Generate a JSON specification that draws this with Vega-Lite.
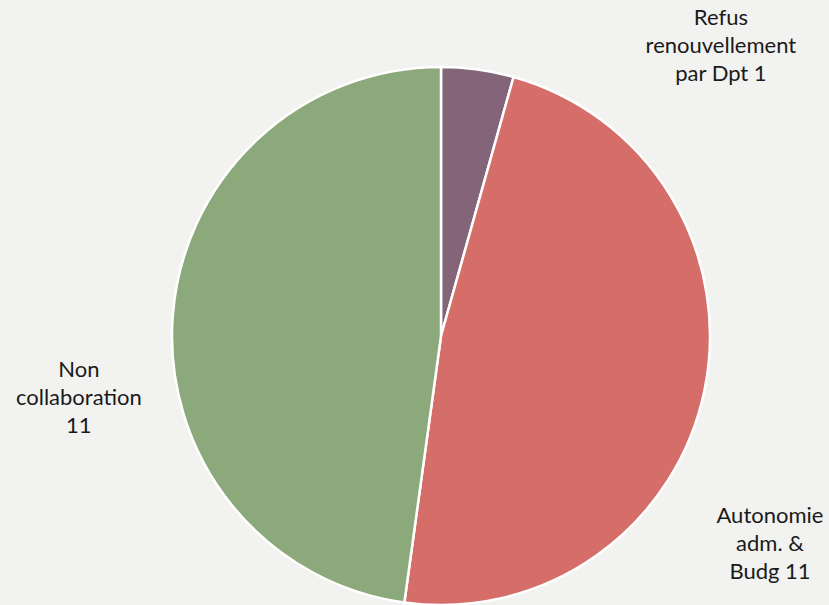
{
  "$schema": "https://vega.github.io/schema/vega-lite/v6.json",
  "autosize": "none",
  "width": 776,
  "height": 538,
  "padding": {"left": 53, "top": 67, "right": 0, "bottom": 0},
  "background": "#F2F2F1",
  "config": {"view": {"stroke": null}},
  "data": {
    "values": [
      {"category": "Refus renouvellement par Dpt", "label": "Refus\nrenouvellement\npar Dpt 1", "value": 1, "rank": 1},
      {"category": "Autonomie adm. & Budg", "label": "Autonomie\nadm. &\nBudg 11", "value": 11, "rank": 2},
      {"category": "Non collaboration", "label": "Non\ncollaboration\n11", "value": 11, "rank": 3}
    ]
  },
  "encoding": {
    "theta": {"field": "value", "type": "quantitative", "stack": true},
    "order": {"field": "rank", "type": "quantitative"}
  },
  "layer": [
    {
      "mark": {"type": "arc", "outerRadius": 269, "stroke": "#FFFFFF", "strokeWidth": 2.5},
      "encoding": {
        "color": {
          "field": "category",
          "type": "nominal",
          "legend": null,
          "scale": {
            "domain": ["Refus renouvellement par Dpt", "Autonomie adm. & Budg", "Non collaboration"],
            "range": ["#836479", "#D56D69", "#8CA97B"]
          }
        }
      }
    },
    {
      "mark": {"type": "text", "radius": 293, "dx": 240, "dy": -28, "font": "Lato", "fontSize": 22, "lineHeight": 28, "lineBreak": "\n", "align": "center", "baseline": "middle", "color": "#1A1A1A"},
      "encoding": {
        "text": {"condition": {"test": "datum.rank === 1", "field": "label"}, "value": ""}
      }
    },
    {
      "mark": {"type": "text", "radius": 336, "dy": 112, "font": "Lato", "fontSize": 22, "lineHeight": 28, "lineBreak": "\n", "align": "center", "baseline": "middle", "color": "#1A1A1A"},
      "encoding": {
        "text": {"condition": {"test": "datum.rank === 2", "field": "label"}, "value": ""}
      }
    },
    {
      "mark": {"type": "text", "radius": 363, "dy": 59, "font": "Lato", "fontSize": 22, "lineHeight": 28, "lineBreak": "\n", "align": "center", "baseline": "middle", "color": "#1A1A1A"},
      "encoding": {
        "text": {"condition": {"test": "datum.rank === 3", "field": "label"}, "value": ""}
      }
    }
  ]
}
